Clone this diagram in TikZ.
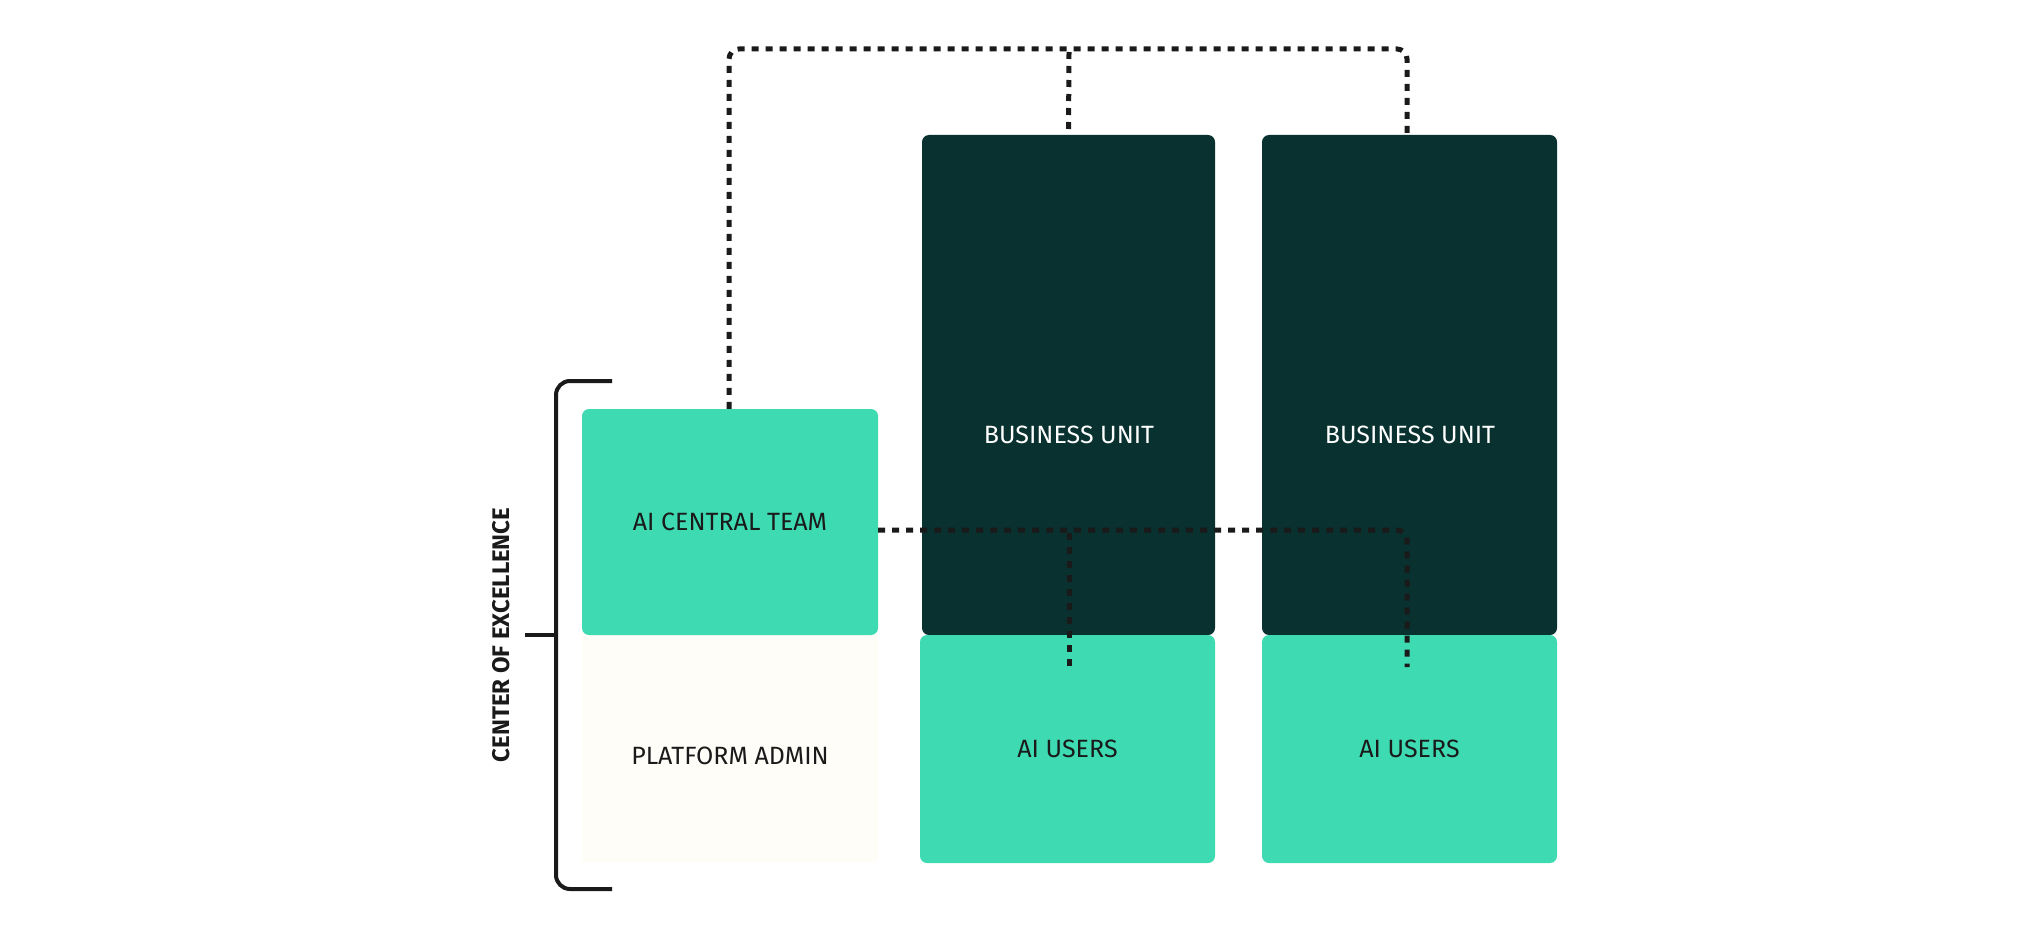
\documentclass[tikz,border=0pt]{standalone}
\usepackage{fontspec}
\setmainfont{Fira Sans}
\definecolor{dk}{HTML}{08312F}
\definecolor{gr}{HTML}{3EDBB3}
\definecolor{cr}{HTML}{FEFDF8}
\definecolor{ink}{HTML}{1A1A1A}
\begin{document}
\begin{tikzpicture}[x=1pt,y=-1pt,
  box/.style={rounded corners=7pt,inner sep=0pt,font=\fontsize{25}{30}\selectfont},
  dots/.style={draw=ink,line width=5pt,dash pattern=on 7pt off 7pt,rounded corners=10pt}]
\useasboundingbox (0,0) rectangle (2042,936);
\fill[cr] (582,635) rectangle (878,862);
\node[box,fill=gr,minimum width=296pt,minimum height=226pt,text=ink] (act) at (730,522) {AI CENTRAL TEAM};
\node[text=ink,font=\fontsize{25}{30}\selectfont] (pa) at (730,756) {PLATFORM ADMIN};
\node[box,fill=dk,minimum width=293pt,minimum height=500pt,text=white] (bu1) at (1068.5,385) {};
\node[box,fill=dk,minimum width=295pt,minimum height=500pt,text=white] (bu2) at (1409.5,385) {};
\node[box,fill=gr,minimum width=295pt,minimum height=228pt,text=ink] (au1) at (1067.5,749) {AI USERS};
\node[box,fill=gr,minimum width=295pt,minimum height=228pt,text=ink] (au2) at (1409.5,749) {AI USERS};
\node[text=white,font=\fontsize{25}{30}\selectfont] (bt1) at (1069,435) {BUSINESS UNIT};
\node[text=white,font=\fontsize{25}{30}\selectfont] (bt2) at (1410,435) {BUSINESS UNIT};
\coordinate (t1) at (1069,667);
\coordinate (t2) at (1407,667);
\draw[dots] (act.north -| 729,0) -- (729,49) -- (1407,49) -- (bu2.north -| 1407,0);
\draw[dots,rounded corners=0pt] (1069,52) -- (bu1.north);
\draw[dots] (act.east |- 0,530) -- (1407,530) -- (t2);
\draw[dots,rounded corners=0pt] (1069,533) -- (t1);
\draw[ink,line width=4pt,rounded corners=14pt] (612,381) -- (556,381) -- (556,889) -- (612,889);
\draw[ink,line width=4pt] (525,635) -- (556,635);
\node[rotate=90,text=ink,font=\bfseries\fontsize{24}{28}\selectfont] (coe) at (501,635) {CENTER OF EXCELLENCE};
\end{tikzpicture}
\end{document}
